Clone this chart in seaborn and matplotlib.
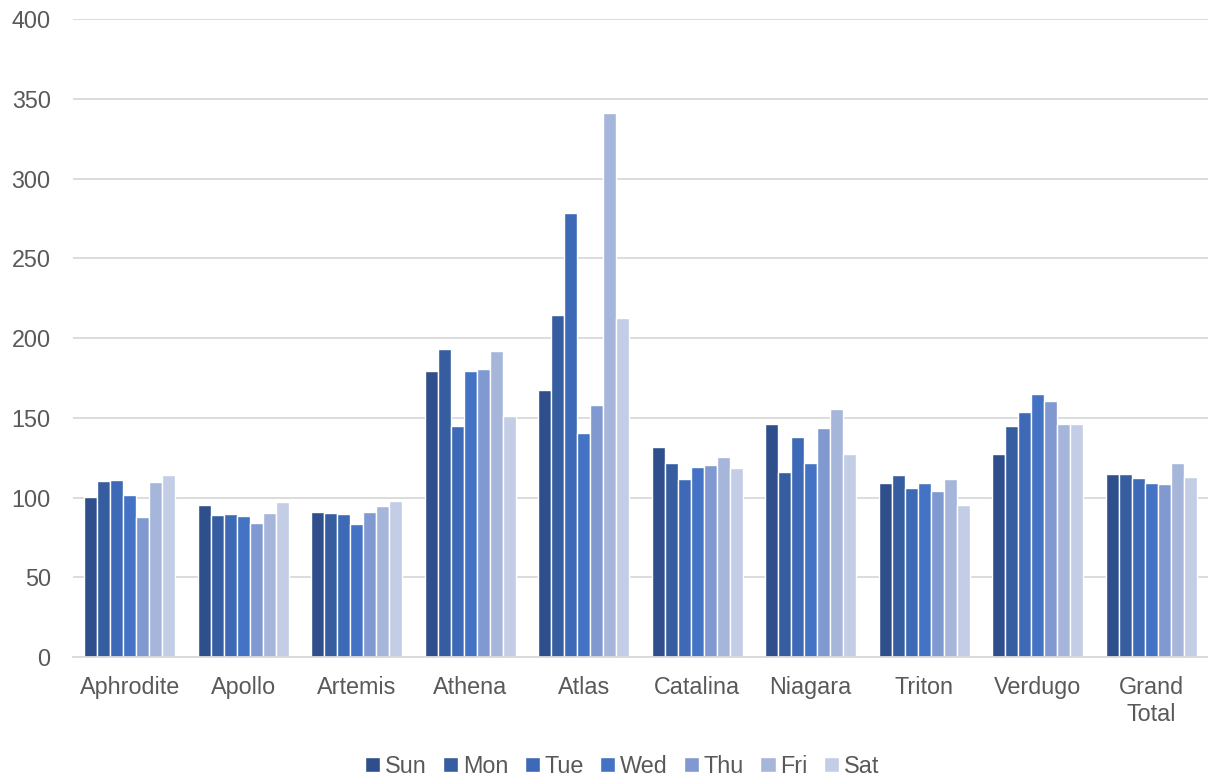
import matplotlib
matplotlib.use("Agg")
import matplotlib.pyplot as plt
import seaborn as sns
import pandas as pd

# Average values per site and day of week
sites = ["Aphrodite", "Apollo", "Artemis", "Athena", "Atlas",
         "Catalina", "Niagara", "Triton", "Verdugo", "Grand\nTotal"]
days = ["Sun", "Mon", "Tue", "Wed", "Thu", "Fri", "Sat"]

sun = [100.5, 95.3, 90.7, 179.2, 167.7, 131.7, 146.4, 109.1, 127.1, 114.5]
mon = [110.4, 89.2, 90.3, 193.0, 214.4, 121.4, 116.0, 113.9, 144.9, 114.5]
tue = [110.8, 89.8, 89.6, 145.0, 278.1, 111.8, 137.8, 105.7, 153.5, 112.2]
wed = [101.6, 88.6, 83.5, 179.4, 140.5, 119.2, 121.7, 109.1, 165.0, 108.9]
thu = [87.9, 84.0, 90.9, 180.7, 158.1, 120.2, 143.8, 103.9, 160.6, 108.5]
fri = [109.9, 90.5, 94.8, 191.8, 341.1, 125.4, 155.8, 111.8, 146.4, 121.7]
sat = [114.1, 97.2, 97.8, 151.4, 212.3, 118.5, 127.1, 95.3, 146.4, 112.9]

palette = ["#2F4F8C", "#355DA0", "#3D69B6", "#4472C4",
           "#8099D1", "#A6B5DA", "#C3CDE6"]

series = [sun, mon, tue, wed, thu, fri, sat]
rows = []
for day, vals in zip(days, series):
    for site, v in zip(sites, vals):
        rows.append({"site": site, "day": day, "value": v})
df = pd.DataFrame(rows)

sns.set_theme(style="white")
plt.rcParams["font.family"] = ["Liberation Sans", "DejaVu Sans"]

fig = plt.figure(figsize=(12.08, 7.77), dpi=100)
ax = fig.add_axes([0.0604, 0.1544, 0.9396, 0.8211])

sns.barplot(data=df, x="site", y="value", hue="day", order=sites,
            hue_order=days, palette=palette, width=0.8,
            edgecolor="white", linewidth=1.0, saturation=1, ax=ax)

ax.set_ylim(0, 400)
ax.set_xlim(-0.5, len(sites) - 0.5)
ax.set_yticks(range(0, 401, 50))
ax.yaxis.grid(True, color="#D9D9D9", linewidth=1.3)
ax.set_axisbelow(True)
ax.set_xlabel("")
ax.set_ylabel("")
for side in ["top", "right", "left"]:
    ax.spines[side].set_visible(False)
ax.spines["bottom"].set_color("#D9D9D9")
ax.spines["bottom"].set_linewidth(1.3)
ax.tick_params(axis="both", length=0, labelsize=16.8, colors="#595959")
ax.tick_params(axis="y", pad=16)
ax.tick_params(axis="x", pad=14)

ax.legend_.remove()
handles, labels = ax.get_legend_handles_labels()
fig.legend(handles[:7], labels[:7], loc="center", bbox_to_anchor=(0.515, 0.014),
           ncol=7, frameon=False, fontsize=16.8, labelcolor="#595959",
           handlelength=0.65, handleheight=0.65, handletextpad=0.2,
           columnspacing=0.7)

fig.savefig("out.png", dpi=100)
